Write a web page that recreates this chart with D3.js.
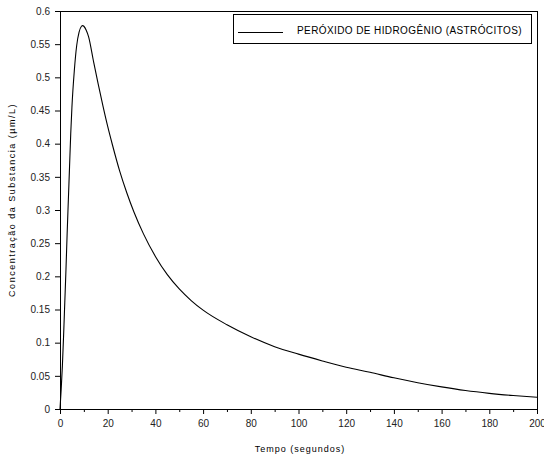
<!DOCTYPE html>
<html><head><meta charset="utf-8">
<script src="https://cdn.jsdelivr.net/npm/d3@7"></script>
<style>
body{margin:0;background:#fff;}
text{font-family:"Liberation Sans",Arial,sans-serif;}
</style></head>
<body><svg id="c" width="544" height="459"></svg>
<script>
const timeValues = [0,0.5,1,1.5,2,2.5,3,3.5,4,4.5,5,6,7,8,9,9.5,10,11,12,14,16,18,20,22,25,28,31,35,40,45,50,55,60,70,80,90,100,110,120,130,140,150,160,170,180,190,200];
const concValues = [0,0.03,0.065,0.11,0.16,0.21,0.265,0.315,0.365,0.415,0.455,0.51,0.548,0.568,0.577,0.578,0.577,0.571,0.561,0.525,0.49,0.457,0.426,0.398,0.359,0.326,0.297,0.264,0.23,0.2025,0.181,0.1635,0.149,0.127,0.109,0.094,0.0827,0.0725,0.063,0.0553,0.047,0.0397,0.0333,0.0278,0.0236,0.0203,0.0176];
const xTicks = [0,20,40,60,80,100,120,140,160,180,200];
const xMinorTicks = [10,30,50,70,90,110,130,150,170,190];
const yTicks = [0,0.05,0.1,0.15,0.2,0.25,0.3,0.35,0.4,0.45,0.5,0.55,0.6];
const seriesName = "PERÓXIDO DE HIDROGÊNIO (ASTRÓCITOS)";
const xTitle = "Tempo (segundos)";
const yTitle = "Concentração da Substancia (µm/L)";

const svg = d3.select("#c");
const L = 60, R = 537, T = 11, B = 409;
const x = d3.scaleLinear().domain([0,200]).range([L,R]);
const y = d3.scaleLinear().domain([0,0.6]).range([B,T]);

// frame
svg.append("rect").attr("x",L).attr("y",T).attr("width",R-L).attr("height",B-T)
  .attr("fill","none").attr("stroke","#000").attr("stroke-width",1).attr("shape-rendering","crispEdges");

svg.append("g").attr("transform",`translate(0,${B})`)
  .call(d3.axisBottom(x).tickValues(xTicks).tickFormat(d3.format("d")).tickSize(5).tickPadding(6));
svg.append("g").attr("transform",`translate(0,${B})`)
  .call(d3.axisBottom(x).tickValues(xMinorTicks).tickFormat("").tickSize(3))
  .select(".domain").remove();
svg.append("g").attr("transform",`translate(${L},0)`)
  .call(d3.axisLeft(y).tickValues(yTicks).tickFormat(d=>String(+d.toFixed(2))).tickSize(5).tickPadding(5));
svg.selectAll(".tick text").attr("font-family","Liberation Sans, Arial, sans-serif").attr("font-size",10).attr("fill","#222");
svg.selectAll(".tick line").attr("stroke","#000");
svg.selectAll(".domain").attr("stroke","#000");

// line
const data = timeValues.map((t,i)=>[t,concValues[i]]);
svg.append("path").datum(data)
  .attr("fill","none").attr("stroke","#000").attr("stroke-width",1.1)
  .attr("d", d3.line().x(d=>x(d[0])).y(d=>y(d[1])).curve(d3.curveMonotoneX));

// titles
svg.append("text").attr("x",300).attr("y",452).attr("text-anchor","middle")
  .attr("font-size",9).attr("letter-spacing",1.0).attr("fill","#000").text(xTitle);
svg.append("text").attr("transform",`translate(15,200) rotate(-90)`).attr("text-anchor","middle")
  .attr("font-size",9).attr("letter-spacing",1.5).attr("fill","#000").text(yTitle);

// legend
svg.append("rect").attr("x",233.5).attr("y",14.5).attr("width",298).attr("height",29)
  .attr("fill","#fff").attr("stroke","#000").attr("stroke-width",1);
svg.append("line").attr("x1",238).attr("x2",283).attr("y1",32.5).attr("y2",32.5).attr("stroke","#000");
svg.append("text").attr("x",297).attr("y",34).attr("font-size",10).attr("letter-spacing",0.4).attr("fill","#000").text(seriesName);
</script></body></html>
